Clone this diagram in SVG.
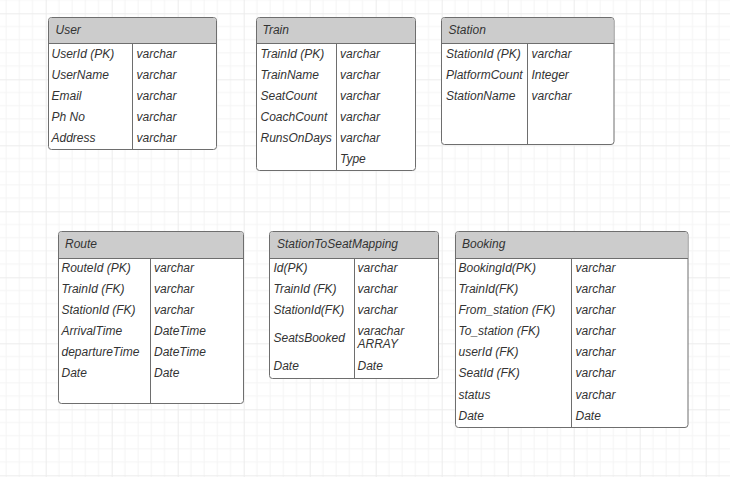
<svg xmlns="http://www.w3.org/2000/svg" width="730" height="477" viewBox="0 0 730 477">
<style>
.box{fill:#ffffff;stroke:#6e6e6e;stroke-width:1}
.hdr{fill:#cccccc;stroke:none}
.ln{stroke:#6e6e6e;stroke-width:1;fill:none}
.t{font-family:"Liberation Sans",Arial,sans-serif;font-size:12px;font-style:italic;fill:#333333}
</style>
<defs>
<pattern id="grid" patternUnits="userSpaceOnUse" x="45.7" y="13.3" width="66" height="66">
<path d="M13.2 0V66M26.4 0V66M39.6 0V66M52.8 0V66M0 13.2H66M0 26.4H66M0 39.6H66M0 52.8H66" stroke="#f4f4f4" stroke-width="1" fill="none"/>
<path d="M0.5 0V66M0 0.5H66" stroke="#ececec" stroke-width="1" fill="none"/>
</pattern>
</defs>
<rect width="730" height="477" fill="#ffffff"/>
<rect width="730" height="477" fill="url(#grid)"/>
<g id="connectors"></g>

<g id="User">
<rect class="box" x="48.5" y="17.5" width="168" height="132" rx="3"/>
<path class="hdr" d="M51.5 18H213.5A2.5 2.5 0 0 1 216 20.5V43H49V20.5A2.5 2.5 0 0 1 51.5 18Z"/>
<path class="ln" d="M48.5 43.5H216.5M132.5 43.5V149.5"/>
<text class="t" x="55.5" y="33.5">User</text>
<text class="t" x="51.5" y="57.5">UserId (PK)</text><text class="t" x="136.5" y="57.5">varchar</text>
<text class="t" x="51.5" y="78.5">UserName</text><text class="t" x="136.5" y="78.5">varchar</text>
<text class="t" x="51.5" y="99.5">Email</text><text class="t" x="136.5" y="99.5">varchar</text>
<text class="t" x="51.5" y="120.5">Ph No</text><text class="t" x="136.5" y="120.5">varchar</text>
<text class="t" x="51.5" y="141.5">Address</text><text class="t" x="136.5" y="141.5">varchar</text>
</g>

<g id="Train">
<rect class="box" x="256.5" y="17.5" width="159" height="153" rx="3"/>
<path class="hdr" d="M259.5 18H412.5A2.5 2.5 0 0 1 415 20.5V43H257V20.5A2.5 2.5 0 0 1 259.5 18Z"/>
<path class="ln" d="M256.5 43.5H415.5M336.5 43.5V170.5"/>
<text class="t" x="262.5" y="33.5">Train</text>
<text class="t" x="260.5" y="57.5">TrainId (PK)</text><text class="t" x="340" y="57.5">varchar</text>
<text class="t" x="260.5" y="78.5">TrainName</text><text class="t" x="340" y="78.5">varchar</text>
<text class="t" x="260.5" y="99.5">SeatCount</text><text class="t" x="340" y="99.5">varchar</text>
<text class="t" x="260.5" y="120.5">CoachCount</text><text class="t" x="340" y="120.5">varchar</text>
<text class="t" x="260.5" y="141.5">RunsOnDays</text><text class="t" x="340" y="141.5">varchar</text>
<text class="t" x="340" y="162.5">Type</text>
</g>

<g id="Station">
<rect class="box" x="441.5" y="17.5" width="172.5" height="127" rx="3"/>
<path class="hdr" d="M444.5 18H611A2.5 2.5 0 0 1 613.5 20.5V43H442V20.5A2.5 2.5 0 0 1 444.5 18Z"/>
<path class="ln" d="M441.5 43.5H614M527.5 43.5V144.5"/>
<text class="t" x="448.5" y="33.5">Station</text>
<text class="t" x="446" y="57.5">StationId (PK)</text><text class="t" x="531.5" y="57.5">varchar</text>
<text class="t" x="446" y="78.5">PlatformCount</text><text class="t" x="531.5" y="78.5">Integer</text>
<text class="t" x="446" y="99.5">StationName</text><text class="t" x="531.5" y="99.5">varchar</text>
</g>

<g id="Route">
<rect class="box" x="58.5" y="231.5" width="185" height="172" rx="3"/>
<path class="hdr" d="M61.5 232H240.5A2.5 2.5 0 0 1 243 234.5V258H59V234.5A2.5 2.5 0 0 1 61.5 232Z"/>
<path class="ln" d="M58.5 258.5H243.5M150.5 258.5V403.5"/>
<text class="t" x="65" y="248">Route</text>
<text class="t" x="61.5" y="272">RouteId (PK)</text><text class="t" x="154" y="272">varchar</text>
<text class="t" x="61.5" y="293">TrainId (FK)</text><text class="t" x="154" y="293">varchar</text>
<text class="t" x="61.5" y="314">StationId (FK)</text><text class="t" x="154" y="314">varchar</text>
<text class="t" x="61.5" y="335">ArrivalTime</text><text class="t" x="154" y="335">DateTime</text>
<text class="t" x="61.5" y="356">departureTime</text><text class="t" x="154" y="356">DateTime</text>
<text class="t" x="61.5" y="377">Date</text><text class="t" x="154" y="377">Date</text>
</g>

<g id="StationToSeatMapping">
<rect class="box" x="269.5" y="231.5" width="169" height="147" rx="3"/>
<path class="hdr" d="M272.5 232H435.5A2.5 2.5 0 0 1 438 234.5V258H270V234.5A2.5 2.5 0 0 1 272.5 232Z"/>
<path class="ln" d="M269.5 258.5H438.5M354.5 258.5V378.5"/>
<text class="t" x="277" y="248">StationToSeatMapping</text>
<text class="t" x="273.5" y="272">Id(PK)</text><text class="t" x="357.5" y="272">varchar</text>
<text class="t" x="273.5" y="293">TrainId (FK)</text><text class="t" x="357.5" y="293">varchar</text>
<text class="t" x="273.5" y="314">StationId(FK)</text><text class="t" x="357.5" y="314">varchar</text>
<text class="t" x="273.5" y="342">SeatsBooked</text><text class="t" x="357.5" y="335">varachar</text>
<text class="t" x="357.5" y="348">ARRAY</text>
<text class="t" x="273.5" y="370">Date</text><text class="t" x="357.5" y="370">Date</text>
</g>

<g id="Booking">
<rect class="box" x="455.5" y="231.5" width="232.5" height="196" rx="3"/>
<path class="hdr" d="M458.5 232H685A2.5 2.5 0 0 1 687.5 234.5V258H456V234.5A2.5 2.5 0 0 1 458.5 232Z"/>
<path class="ln" d="M455.5 258.5H688M571.5 258.5V427.5"/>
<text class="t" x="462" y="248">Booking</text>
<text class="t" x="458.5" y="272">BookingId(PK)</text><text class="t" x="575.5" y="272">varchar</text>
<text class="t" x="458.5" y="293">TrainId(FK)</text><text class="t" x="575.5" y="293">varchar</text>
<text class="t" x="458.5" y="314">From_station (FK)</text><text class="t" x="575.5" y="314">varchar</text>
<text class="t" x="458.5" y="335">To_station (FK)</text><text class="t" x="575.5" y="335">varchar</text>
<text class="t" x="458.5" y="356">userId (FK)</text><text class="t" x="575.5" y="356">varchar</text>
<text class="t" x="458.5" y="377">SeatId (FK)</text><text class="t" x="575.5" y="377">varchar</text>
<text class="t" x="458.5" y="398.5">status</text><text class="t" x="575.5" y="398.5">varchar</text>
<text class="t" x="458.5" y="420">Date</text><text class="t" x="575.5" y="420">Date</text>
</g>
</svg>
